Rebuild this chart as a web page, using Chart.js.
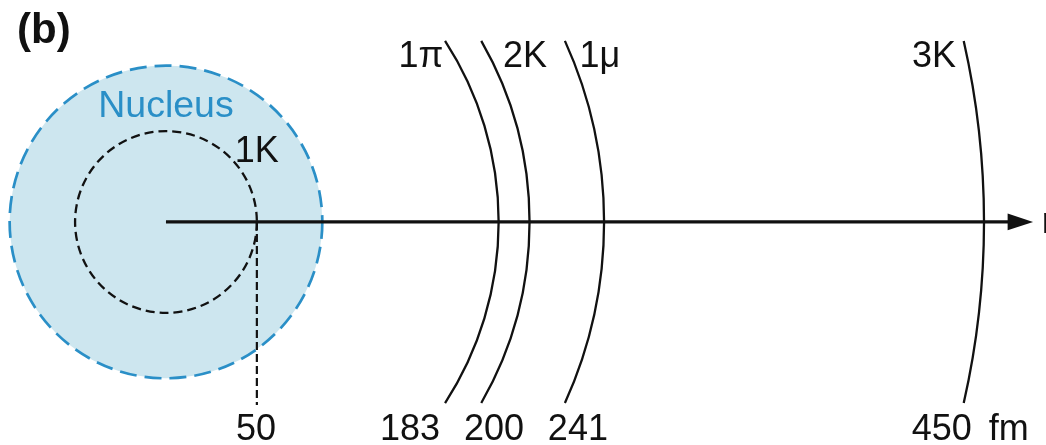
<!DOCTYPE html>
<html>
<head>
<meta charset="utf-8">
<script src="https://cdn.jsdelivr.net/npm/chart.js@4/dist/chart.umd.min.js"></script>
<style>
  html, body { margin: 0; padding: 0; background: #ffffff; }
  #wrap { width: 1046px; height: 445px; position: relative; }
</style>
</head>
<body>
<div id="wrap"><canvas id="c"></canvas></div>
<script>
// Orbit radii around the nucleus, in fm
const orbitNames = ['1π', '2K', '1μ', '3K'];
const orbitRadii = [183, 200, 241, 450];
const innerOrbitName = '1K';
const innerOrbitRadius = 50;
const nucleusRadius = 86;
const nucleusName = 'Nucleus';
const tickLabels = ['50', '183', '200', '241', '450', 'fm'];
const panelTag = '(b)';
const axisName = 'r';

// Where the texts sit along the r axis (fm)
const orbitLabelX = [140.3, 197.5, 238.7, 422.5];
const tickLabelX = [49.5, 134.2, 180.4, 226.6, 426.8, 463.6];
const axisNameX = 481.8;

// Drawing extents (fm)
const arcHalfHeight = 99.6;
const axisEnd = 463;
const arrowLength = 14;
const arrowHalfWidth = 4.6;

const FONT = '"Liberation Sans", Arial, Helvetica, sans-serif';
const BLUE = '#2a8fc7';
const FILL = '#cde6ef';
const INK = '#111111';

const orbitPlugin = {
  id: 'orbits',
  beforeDatasetsDraw(chart) {
    const { ctx } = chart;
    const sx = chart.scales.x, sy = chart.scales.y;
    const cx = sx.getPixelForValue(0), cy = sy.getPixelForValue(0);
    const px = r => sx.getPixelForValue(r) - cx;

    ctx.save();
    // nucleus disc
    ctx.beginPath();
    ctx.arc(cx, cy, px(nucleusRadius), 0, Math.PI * 2);
    ctx.fillStyle = FILL;
    ctx.fill();
    ctx.setLineDash([17, 8]);
    ctx.lineWidth = 2.7;
    ctx.strokeStyle = BLUE;
    ctx.stroke();

    // inner 1K orbit
    ctx.beginPath();
    ctx.arc(cx, cy, px(innerOrbitRadius), 0, Math.PI * 2);
    ctx.setLineDash([9, 5]);
    ctx.lineWidth = 2.3;
    ctx.strokeStyle = INK;
    ctx.stroke();

    // outer orbit arcs
    ctx.setLineDash([]);
    ctx.lineWidth = 2.3;
    orbitRadii.forEach(r => {
      const a = Math.asin(arcHalfHeight / r);
      ctx.beginPath();
      ctx.arc(cx, cy, px(r), -a, a);
      ctx.stroke();
    });
    ctx.restore();
  },
  afterDatasetsDraw(chart) {
    const { ctx } = chart;
    const sx = chart.scales.x, sy = chart.scales.y;
    const X = v => sx.getPixelForValue(v), Y = v => sy.getPixelForValue(v);

    ctx.save();
    // arrowhead on the r axis
    ctx.beginPath();
    ctx.moveTo(X(axisEnd + arrowLength), Y(0));
    ctx.lineTo(X(axisEnd), Y(arrowHalfWidth));
    ctx.lineTo(X(axisEnd), Y(-arrowHalfWidth));
    ctx.closePath();
    ctx.fillStyle = INK;
    ctx.fill();

    ctx.textBaseline = 'alphabetic';
    ctx.textAlign = 'center';
    ctx.fillStyle = INK;
    ctx.font = '36px ' + FONT;

    orbitNames.forEach((t, i) => ctx.fillText(t, X(orbitLabelX[i]), Y(85)));
    ctx.fillText(innerOrbitName, X(innerOrbitRadius), Y(33));
    tickLabels.forEach((t, i) => ctx.fillText(t, X(tickLabelX[i]), Y(-120)));

    ctx.textAlign = 'left';
    ctx.fillText(axisName, X(axisNameX), Y(-6));

    ctx.textAlign = 'center';
    ctx.fillStyle = BLUE;
    ctx.font = '37.5px ' + FONT;
    ctx.fillText(nucleusName, X(0), Y(57.8));

    ctx.textAlign = 'left';
    ctx.fillStyle = INK;
    ctx.font = 'bold 42px ' + FONT;
    ctx.fillText(panelTag, 17, 43);
    ctx.restore();
  }
};

const chart = new Chart(document.getElementById('c'), {
  type: 'scatter',
  data: {
    datasets: [
      {
        // r axis
        data: [{ x: 0, y: 0 }, { x: axisEnd + 2, y: 0 }],
        showLine: true,
        borderColor: INK,
        borderWidth: 3.3,
        pointRadius: 0
      },
      {
        // drop line from the 1K orbit to its label
        data: [{ x: innerOrbitRadius, y: 0 }, { x: innerOrbitRadius, y: -100.7 }],
        showLine: true,
        borderColor: INK,
        borderWidth: 2.2,
        borderDash: [8, 4],
        pointRadius: 0
      }
    ]
  },
  options: {
    responsive: true,
    maintainAspectRatio: false,
    animation: false,
    events: [],
    layout: { padding: 0 },
    plugins: { legend: { display: false }, tooltip: { enabled: false } },
    scales: {
      x: { type: 'linear', display: false, min: -91.3, max: 484.1 },
      y: { type: 'linear', display: false, min: -122.7, max: 122.1 }
    }
  },
  plugins: [orbitPlugin]
});
</script>
</body>
</html>
